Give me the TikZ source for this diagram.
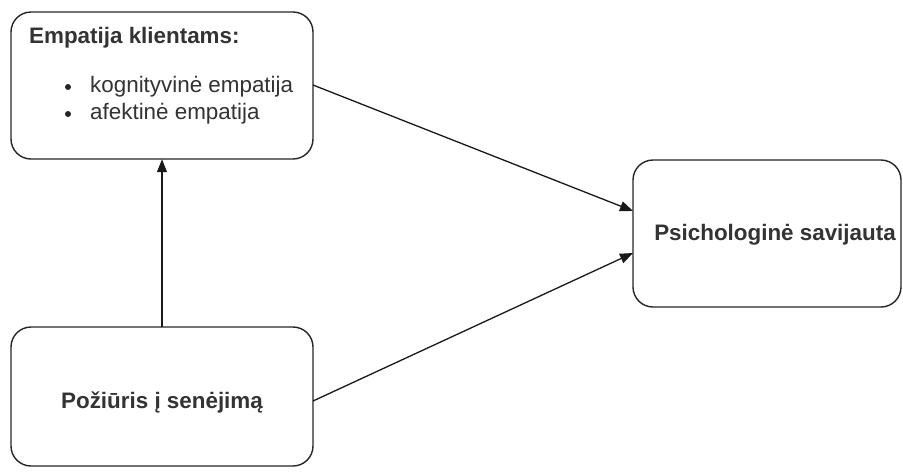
\documentclass[tikz,border=0pt]{standalone}
\usepackage{fontspec}
\setmainfont{Liberation Sans}
\usetikzlibrary{arrows.meta}
\tikzset{
  boxstyle/.style={draw=black!85, line width=1.4pt, rounded corners=20pt, fill=white},
  txt/.style={font=\fontsize{22.4}{27}\selectfont, text=black!80, inner sep=0pt, anchor=base},
  headtxt/.style={txt, font=\fontsize{22.4}{27}\selectfont\bfseries},
  conn/.style={draw=black!90, line width=1.3pt, -{Triangle[length=13pt,width=10pt]}},
}
\begin{document}
\begin{tikzpicture}[x=1pt,y=-1pt]
\useasboundingbox (0,0) rectangle (903,475);
% boxes
\draw[boxstyle] (11,12) rectangle (313,159);
\node[inner sep=0pt, minimum width=302pt, minimum height=147pt] (A) at (162,85.5) {};
\draw[boxstyle] (633,160) rectangle (901,307);
\node[inner sep=0pt, minimum width=268pt, minimum height=147pt] (B) at (767,233.5) {};
\draw[boxstyle] (11,327) rectangle (313,466);
\node[inner sep=0pt, minimum width=302pt, minimum height=139pt] (C) at (162,396.5) {};
% texts
\node[headtxt, anchor=base west] (ta) at (29,43) {Empatija klientams:};
\node[txt, anchor=base west] (t1) at (90,92) {kognityvinė empatija};
\node[txt, anchor=base west] (t2) at (90,119) {afektinė empatija};
\fill[black!85] (68,87) circle (3pt);
\fill[black!85] (68,114) circle (3pt);
\node[headtxt] (tb) at (775,240) {Psichologinė savijauta};
\node[headtxt] (tc) at (162,408) {Požiūris į senėjimą};
% connectors
\coordinate (a1) at (313,85);
\coordinate (b1) at (633,211);
\coordinate (c1) at (313,401);
\coordinate (b2) at (633,253);
\draw[conn] (a1) -- (b1);
\draw[conn] (c1) -- (b2);
\draw[conn] (C.north) -- (A.south);
\end{tikzpicture}
\end{document}
